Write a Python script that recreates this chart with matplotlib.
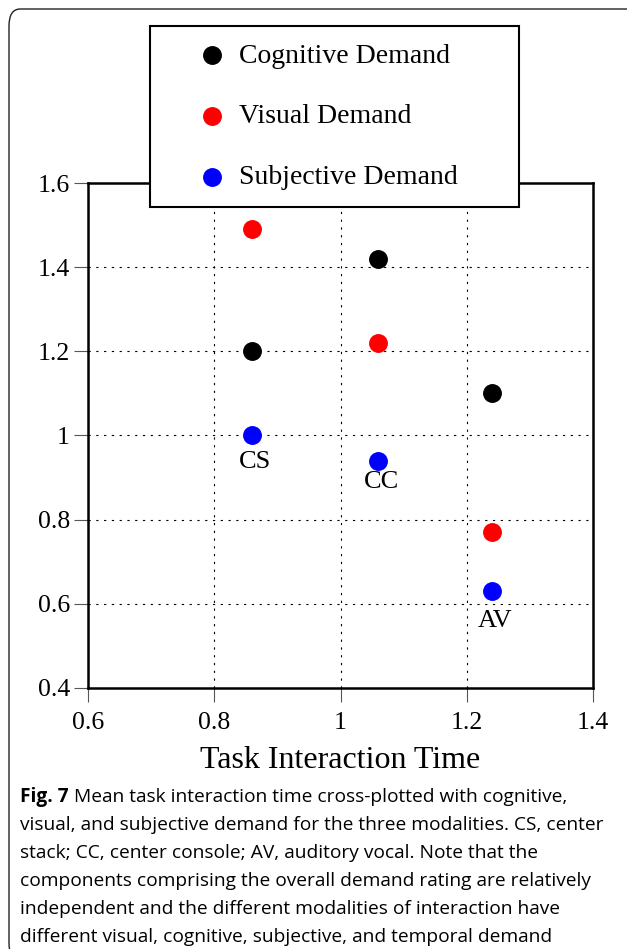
import matplotlib
matplotlib.use('Agg')
import matplotlib.pyplot as plt
from matplotlib.patches import FancyBboxPatch

# data
modalities = ['CS', 'CC', 'AV']
task_time = [0.86, 1.06, 1.24]
cognitive = [1.20, 1.42, 1.10]
visual = [1.49, 1.22, 0.77]
subjective = [1.00, 0.94, 0.63]

series = [('Cognitive Demand', cognitive, 'black'),
          ('Visual Demand', visual, 'red'),
          ('Subjective Demand', subjective, 'blue')]

xticks = [0.6, 0.8, 1.0, 1.2, 1.4]
xticklabels = ['0.6', '0.8', '1', '1.2', '1.4']
yticks = [0.4, 0.6, 0.8, 1.0, 1.2, 1.4, 1.6]
yticklabels = ['0.4', '0.6', '0.8', '1', '1.2', '1.4', '1.6']

caption_head = 'Fig. 7'
caption_first = ' Mean task interaction time cross-plotted with cognitive,'
caption = ['visual, and subjective demand for the three modalities. CS, center',
           'stack; CC, center console; AV, auditory vocal. Note that the',
           'components comprising the overall demand rating are relatively',
           'independent and the different modalities of interaction have',
           'different visual, cognitive, subjective, and temporal demand']

plt.rcParams['font.family'] = ['Liberation Serif', 'DejaVu Serif']

W, H = 627, 949
fig = plt.figure(figsize=(W/100, H/100), dpi=100)
ax = fig.add_axes([88/W, 1-688/H, 505/W, 505/H])

for lab, vals, col in series:
    ax.scatter(task_time, vals, s=185, c=col, label=lab, zorder=3, linewidths=0)

# modality labels below the subjective point
lab_off = [-27, -21, -30]
for m, x, y, dy in zip(modalities, task_time, subjective, lab_off):
    ax.annotate(m, (x, y), xytext=(2, dy*0.72), textcoords='offset points',
                ha='center', va='center', fontsize=19)

ax.set_xlim(0.6, 1.4)
ax.set_ylim(0.4, 1.6)
ax.set_xticks(xticks)
ax.set_xticklabels(xticklabels)
ax.set_yticks(yticks)
ax.set_yticklabels(yticklabels)
ax.tick_params(direction='out', length=10, width=0.8, color='#555555',
               labelsize=18.5)
ax.tick_params(axis='x', pad=7)
ax.tick_params(axis='y', pad=3)
ax.grid(c='black', linewidth=0.8, linestyle=(0, (2, 5)))
ax.set_axisbelow(True)
for sp in ax.spines.values():
    sp.set_linewidth(1.8)
ax.set_xlabel('Task Interaction Time', fontsize=23, labelpad=9)

leg = ax.legend(loc='upper left', bbox_to_anchor=(150/W, 1-208/H, 369/W, 182/H),
                bbox_transform=fig.transFigure, mode='expand', fontsize=20,
                frameon=True, fancybox=False, edgecolor='black',
                labelspacing=1.27, handletextpad=-0.6, borderpad=0.62,
                borderaxespad=0, scatterpoints=1, markerscale=1.0,
                handlelength=3.2, framealpha=1)
leg.get_frame().set_linewidth(1.5)
leg.set_zorder(10)

# caption below the chart
cap_size = 13.8
t0 = fig.text(20/W, 1-797/H, caption_head, family='Open Sans', weight='bold',
              fontsize=cap_size, va='center', ha='left')
ax.annotate(caption_first, xy=(1, 0.5), xycoords=t0, va='center', ha='left',
            family='Open Sans', fontsize=cap_size, annotation_clip=False)
for i, line in enumerate(caption):
    fig.text(20/W, 1-(825 + i*28)/H, line, family='Open Sans',
             fontsize=cap_size, va='center', ha='left')

# outer rounded frame
frame = FancyBboxPatch((9/W, 1-960/H), 640/W, 951/H,
                       boxstyle='round,pad=0,rounding_size=0.018',
                       transform=fig.transFigure, fill=False,
                       edgecolor='#222222', linewidth=1.0)
fig.add_artist(frame)

fig.savefig('out.png', dpi=100)
